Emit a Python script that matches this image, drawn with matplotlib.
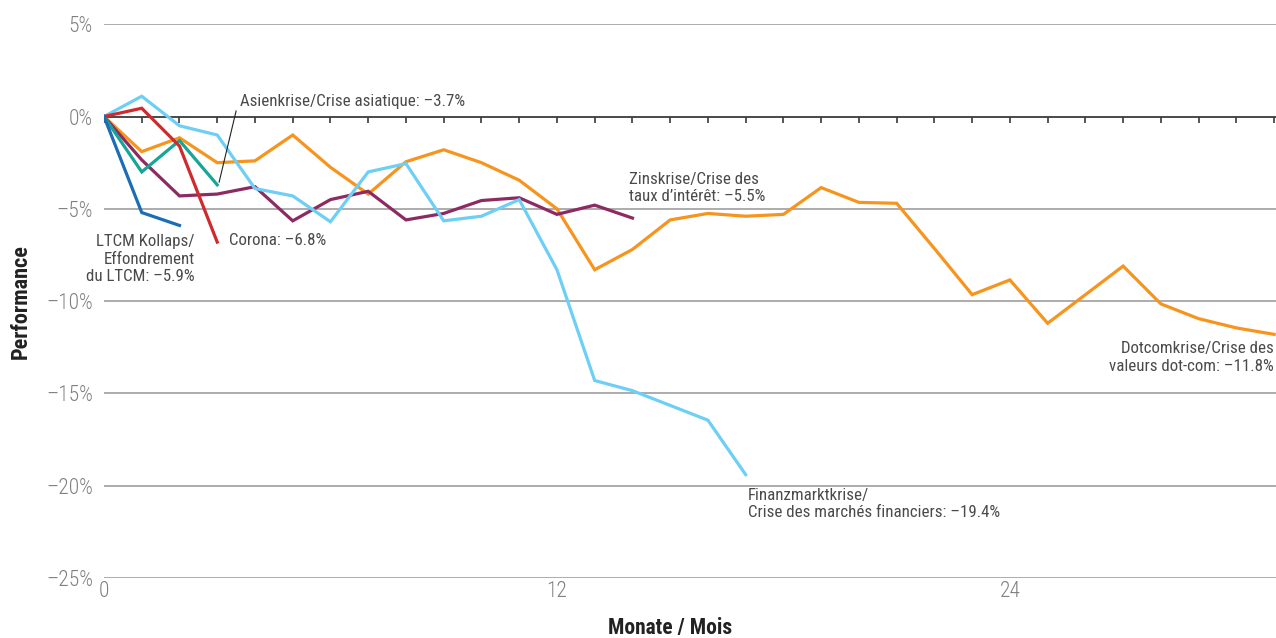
import matplotlib.pyplot as plt

plt.rcParams['font.family'] = ['Roboto Condensed', 'Liberation Sans', 'DejaVu Sans']

# months since start of each crisis and cumulative performance in %
ltcm = [0, -5.2, -5.9]
corona = [0, 0.45, -1.6, -6.8]
asien = [0, -3.0, -1.3, -3.7]
zins = [0, -2.35, -4.3, -4.2, -3.8, -5.65, -4.5, -4.05, -5.6, -5.25, -4.55, -4.4, -5.3, -4.8, -5.5]
finanz = [0, 1.1, -0.5, -1.0, -3.9, -4.3, -5.7, -3.0, -2.55, -5.65, -5.4, -4.5, -8.3,
          -14.3, -14.85, -15.65, -16.45, -19.4]
dotcom = [0, -1.9, -1.15, -2.5, -2.4, -1.0, -2.75, -4.2, -2.45, -1.8, -2.5, -3.45, -5.0,
          -8.3, -7.2, -5.6, -5.25, -5.4, -5.3, -3.85, -4.65, -4.7, -7.15, -9.65, -8.85,
          -11.2, -9.65, -8.1, -10.15, -10.95, -11.45, -11.8]

yticks = [5, 0, -5, -10, -15, -20, -25]
ytick_labels = ['5%', '0%', '–5%', '–10%', '–15%', '–20%', '–25%']
xticks = [0, 12, 24]

fig = plt.figure(figsize=(12.76, 6.38), dpi=100)
ax = fig.add_axes([0.0815, 0.094, 0.9185, 0.868])

for v in yticks:
    if v != 0:
        ax.axhline(v, color='#a6a6a6', lw=1.3, zorder=1)
ax.axhline(0, color='#3a3a3a', lw=1.3, zorder=1)
ax.vlines(range(0, 32), -0.35, 0, color='#3a3a3a', lw=1.2, zorder=1)

lw = 2.3
ax.plot(range(len(dotcom)), dotcom, color='#f7941d', lw=lw, zorder=3, solid_joinstyle='miter')
ax.plot(range(len(finanz)), finanz, color='#6dcff6', lw=lw, zorder=4, solid_joinstyle='miter')
ax.plot(range(len(zins)), zins, color='#8e2a62', lw=lw, zorder=3, solid_joinstyle='miter')
ax.plot(range(len(asien)), asien, color='#16a596', lw=lw, zorder=5, solid_joinstyle='miter')
ax.plot(range(len(corona)), corona, color='#cf2a2e', lw=lw, zorder=5, solid_joinstyle='miter')
ax.plot(range(len(ltcm)), ltcm, color='#1b6db5', lw=lw, zorder=5, solid_joinstyle='miter')

ax.set_xlim(0, 31.05)
ax.set_ylim(-25, 5)
ax.set_yticks(yticks)
ax.set_yticklabels(ytick_labels, fontweight='light')
ax.set_xticks(xticks)
ax.set_xticklabels([str(t) for t in xticks], fontweight='light')
ax.tick_params(length=0, colors='#808080')
ax.tick_params(axis='y', labelsize=15.5, pad=8)
ax.tick_params(axis='x', labelsize=15.5, pad=2)
for s in ax.spines.values():
    s.set_visible(False)

ax.set_ylabel('Performance', fontsize=16, fontweight='bold', color='#222222')
ax.yaxis.set_label_coords(-0.062, 0.5)
ax.set_xlabel('Monate / Mois', fontsize=15.5, fontweight='bold', color='#222222')
ax.xaxis.set_label_coords(0.483, -0.07)

tc = '#4a4a4a'
fs = 12.2
ls = 1.2
# leader line for the Asian crisis label
ax.plot([3.05, 3.5], [-3.55, 0.3], color='#222222', lw=0.8, zorder=6)
ax.text(3.6, 0.81, 'Asienkrise/Crise asiatique: –3.7%', fontsize=fs, color=tc, ha='left', va='center')
ax.text(2.4, -7.72, 'LTCM Kollaps/\nEffondrement\ndu LTCM: –5.9%', fontsize=fs, color=tc,
        ha='right', va='center', linespacing=ls)
ax.text(3.3, -6.7, 'Corona: –6.8%', fontsize=fs, color=tc, ha='left', va='center')
ax.text(13.9, -3.86, 'Zinskrise/Crise des\ntaux d\u2019intérêt: –5.5%', fontsize=fs, color=tc,
        ha='left', va='center', linespacing=ls)
ax.text(31.0, -13.05, 'Dotcomkrise/Crise des\nvaleurs dot-com: –11.8%', fontsize=fs, color=tc,
        ha='right', va='center', linespacing=ls)
ax.text(17.05, -21.0, 'Finanzmarktkrise/\nCrise des marchés financiers: –19.4%', fontsize=fs, color=tc,
        ha='left', va='center', linespacing=ls)

fig.savefig('out.png', dpi=100)
